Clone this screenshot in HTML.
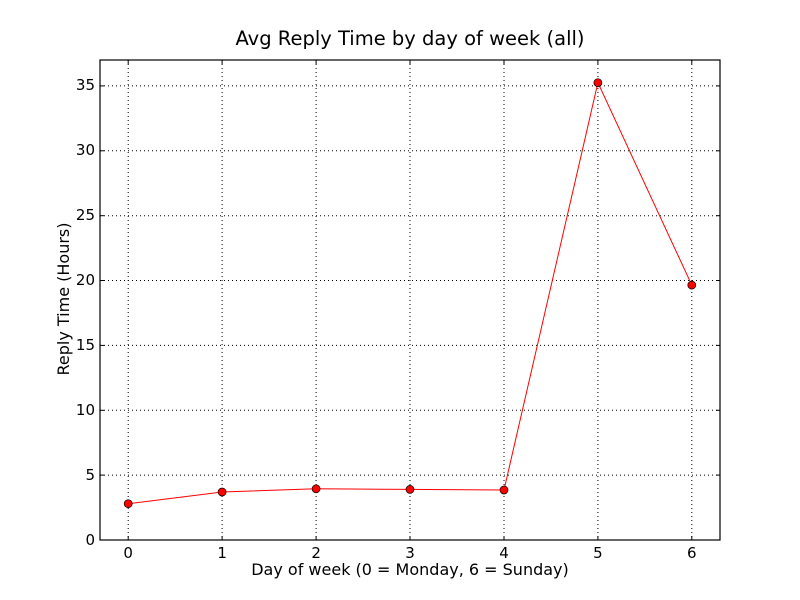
<!DOCTYPE html>
<html><head><style>body{margin:0;background:#fff}svg{display:block}text{font-family:"DejaVu Sans","Liberation Sans",sans-serif;fill:#000}</style></head><body>
<svg width="800" height="600" xmlns="http://www.w3.org/2000/svg">
<rect width="800" height="600" fill="#fff"/>
<g stroke="#000" stroke-width="1" stroke-dasharray="1,3" fill="none">
<line x1="128.2" y1="60" x2="128.2" y2="540"/><line x1="222.1" y1="60" x2="222.1" y2="540"/><line x1="316.1" y1="60" x2="316.1" y2="540"/><line x1="410" y1="60" x2="410" y2="540"/><line x1="504" y1="60" x2="504" y2="540"/><line x1="597.9" y1="60" x2="597.9" y2="540"/><line x1="691.8" y1="60" x2="691.8" y2="540"/>
<line x1="100" y1="475.1" x2="720" y2="475.1"/><line x1="100" y1="410.3" x2="720" y2="410.3"/><line x1="100" y1="345.4" x2="720" y2="345.4"/><line x1="100" y1="280.5" x2="720" y2="280.5"/><line x1="100" y1="215.7" x2="720" y2="215.7"/><line x1="100" y1="150.8" x2="720" y2="150.8"/><line x1="100" y1="85.9" x2="720" y2="85.9"/>
</g>
<g stroke="#000" stroke-width="1">
<line x1="128.2" y1="540" x2="128.2" y2="536"/><line x1="222.1" y1="540" x2="222.1" y2="536"/><line x1="316.1" y1="540" x2="316.1" y2="536"/><line x1="410" y1="540" x2="410" y2="536"/><line x1="504" y1="540" x2="504" y2="536"/><line x1="597.9" y1="540" x2="597.9" y2="536"/><line x1="691.8" y1="540" x2="691.8" y2="536"/>
<line x1="128.2" y1="60" x2="128.2" y2="64"/><line x1="222.1" y1="60" x2="222.1" y2="64"/><line x1="316.1" y1="60" x2="316.1" y2="64"/><line x1="410" y1="60" x2="410" y2="64"/><line x1="504" y1="60" x2="504" y2="64"/><line x1="597.9" y1="60" x2="597.9" y2="64"/><line x1="691.8" y1="60" x2="691.8" y2="64"/>
<line x1="100" y1="475.1" x2="104" y2="475.1"/><line x1="100" y1="410.3" x2="104" y2="410.3"/><line x1="100" y1="345.4" x2="104" y2="345.4"/><line x1="100" y1="280.5" x2="104" y2="280.5"/><line x1="100" y1="215.7" x2="104" y2="215.7"/><line x1="100" y1="150.8" x2="104" y2="150.8"/><line x1="100" y1="85.9" x2="104" y2="85.9"/>
<line x1="720" y1="475.1" x2="716" y2="475.1"/><line x1="720" y1="410.3" x2="716" y2="410.3"/><line x1="720" y1="345.4" x2="716" y2="345.4"/><line x1="720" y1="280.5" x2="716" y2="280.5"/><line x1="720" y1="215.7" x2="716" y2="215.7"/><line x1="720" y1="150.8" x2="716" y2="150.8"/><line x1="720" y1="85.9" x2="716" y2="85.9"/>
</g>
<polyline points="128.2,503.7 222.1,492 316.1,488.8 410,489.4 504,490 597.9,82.7 691.8,285.1" fill="none" stroke="#f00" stroke-width="1"/>
<g fill="#f00" stroke="#000" stroke-width="0.7">
<circle cx="128.2" cy="503.7" r="4"/><circle cx="222.1" cy="492" r="4"/><circle cx="316.1" cy="488.8" r="4"/><circle cx="410" cy="489.4" r="4"/><circle cx="504" cy="490" r="4"/><circle cx="597.9" cy="82.7" r="4"/><circle cx="691.8" cy="285.1" r="4"/>
</g>
<rect x="100" y="60" width="620" height="480" fill="none" stroke="#000" stroke-width="1.2"/>
<g font-size="15" text-anchor="middle">
<text x="128.2" y="558">0</text><text x="222.1" y="558">1</text><text x="316.1" y="558">2</text><text x="410" y="558">3</text><text x="504" y="558">4</text><text x="597.9" y="558">5</text><text x="691.8" y="558">6</text>
</g>
<g font-size="15" text-anchor="end">
<text x="95" y="545">0</text><text x="95" y="480">5</text><text x="95" y="415">10</text><text x="95" y="350">15</text><text x="95" y="285">20</text><text x="95" y="220">25</text><text x="95" y="155">30</text><text x="95" y="90">35</text>
</g>
<text x="410" y="575" font-size="16" text-anchor="middle">Day of week (0 = Monday, 6 = Sunday)</text>
<text transform="translate(69,299) rotate(-90)" font-size="16" text-anchor="middle">Reply Time (Hours)</text>
<text x="410" y="45" font-size="19.5" text-anchor="middle">Avg Reply Time by day of week (all)</text>
</svg>
</body></html>
